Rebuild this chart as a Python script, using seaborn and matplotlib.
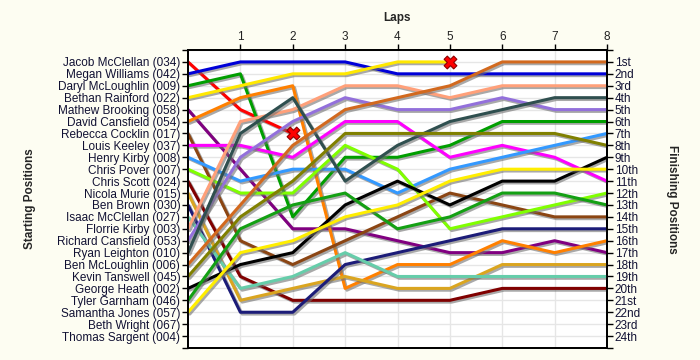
import numpy as np
import pandas as pd
import matplotlib
matplotlib.use('Agg')
import matplotlib.pyplot as plt
import matplotlib.patheffects as pe
import seaborn as sns

# lap chart data
laps = [0, 1, 2, 3, 4, 5, 6, 7, 8]

drivers = ['Jacob McClellan (034)', 'Megan Williams (042)', 'Daryl McLoughlin (009)',
           'Bethan Rainford (022)', 'Mathew Brooking (058)', 'David Cansfield (054)',
           'Rebecca Cocklin (017)', 'Louis Keeley (037)', 'Henry Kirby (008)',
           'Chris Pover (007)', 'Chris Scott (024)', 'Nicola Murie (015)',
           'Ben Brown (030)', 'Isaac McClellan (027)', 'Florrie Kirby (003)',
           'Richard Cansfield (053)', 'Ryan Leighton (010)', 'Ben McLoughlin (006)',
           'Kevin Tanswell (045)', 'George Heath (002)', 'Tyler Garnham (046)',
           'Samantha Jones (057)', 'Beth Wright (067)', 'Thomas Sargent (004)']

colors = ['#ff0000', '#0000d8', '#009e00', '#ffe800', '#800080', '#ff8000',
          '#8b4513', '#ff00ff', '#3399ff', '#80ff00', '#800000', '#daa520',
          '#1c1c78', '#66cdaa', '#ffa07a', '#9370db', '#2f4f4f', '#d2691e',
          '#808000', '#000000', '#13a013', '#ffee00', '#888888', '#888888']

# position of each driver at each lap (None = not running)
positions = [
    [1, 5, 7, None, None, None, None, None, None],
    [2, 1, 1, 1, 2, 2, 2, 2, 2],
    [3, 2, 14, 9, 9, 8, 6, 6, 6],
    [4, 3, 2, 2, 1, 1, None, None, None],
    [5, 10, 15, 15, 16, 17, 17, 16, 17],
    [6, 4, 3, 20, 18, 18, 16, 17, 16],
    [7, 16, 18, 16, 14, 12, 13, 14, 14],
    [8, 8, 9, 6, 6, 9, 8, 9, 11],
    [9, 11, 10, 10, 12, 10, 9, 8, 7],
    [10, 12, 12, 8, 10, 15, 14, 13, 12],
    [11, 19, 21, 21, 21, 21, 20, 20, 20],
    [12, 21, 20, 19, 20, 20, 18, 18, 18],
    [13, 22, 22, 18, 17, 16, 15, 15, 15],
    [14, 20, 19, 17, 19, 19, 19, 19, 19],
    [15, 6, 5, 3, 3, 4, 3, 3, 3],
    [16, 9, 6, 4, 5, 5, 4, 5, 5],
    [17, 7, 4, 11, 8, 6, 5, 4, 4],
    [18, 13, 8, 5, 4, 3, 1, 1, 1],
    [19, 14, 11, 7, 7, 7, 7, 7, 8],
    [20, 18, 17, 13, 11, 13, 11, 11, 9],
    [21, 15, 13, 12, 15, 14, 12, 12, 13],
    [22, 17, 16, 14, 13, 11, 10, 10, 10],
    [None] * 9,
    [None] * 9,
]

retired = ['Jacob McClellan (034)', 'Bethan Rainford (022)']

finish_labels = ['1st', '2nd', '3rd', '4th', '5th', '6th', '7th', '8th', '9th', '10th',
                 '11th', '12th', '13th', '14th', '15th', '16th', '17th', '18th', '19th',
                 '20th', '21st', '22nd', '23rd', '24th']

################################################################################

rows = []
for name, pos in zip(drivers, positions):
    for lap, p in zip(laps, pos):
        if p is not None:
            rows.append((name, lap, p))
df = pd.DataFrame(rows, columns=['driver', 'lap', 'pos'])

sns.set_style('white')
plt.rcParams['font.family'] = ['Liberation Sans', 'DejaVu Sans']

bg = '#fdfdf2'
fig = plt.figure(figsize=(7, 3.6), dpi=100, facecolor=bg)
ax = fig.add_axes([188 / 700, 12 / 360, 419 / 700, 298 / 360])
ax.set_facecolor('white')

running = [d for d in drivers if d in set(df['driver'])]
sns.lineplot(data=df, x='lap', y='pos', hue='driver', hue_order=running,
             palette=dict(zip(drivers, colors)), estimator=None, sort=True,
             legend=False, lw=2.2, ax=ax, zorder=3)
for ln in ax.lines:
    ln.set_path_effects([pe.SimpleLineShadow(offset=(1.3, -1.3), shadow_color='#707070', alpha=0.6),
                         pe.Normal()])

last = df[df['driver'].isin(retired)].groupby('driver').tail(1)
sns.scatterplot(data=last, x='lap', y='pos', marker='X', s=85, color='#ff0000',
                edgecolor='#8b0000', linewidth=0.8, legend=False, ax=ax, zorder=5)

ax.set_xlim(0, 8)
ax.set_ylim(25, 0)
ax.xaxis.tick_top()
ax.set_xticks(laps[1:])
ax.set_xticklabels([str(l) for l in laps[1:]], fontsize=8.5, color='#222222')
ax.set_yticks(range(0, 26))
ax.set_yticklabels([''] + drivers + [''], fontsize=8.5, color='#111133')
ax.tick_params(axis='x', length=4, width=1, pad=1, colors='black', labelcolor='#222222')
ax.tick_params(axis='y', length=4, width=1, pad=1.5, colors='black', labelcolor='#111133', left=True)
ax.set_xlabel('')
ax.set_ylabel('')
ax.grid(True, color='#e6e6e6', lw=1)
for s in ax.spines.values():
    s.set_color('black')
    s.set_linewidth(1.3)

ax2 = ax.twinx()
ax2.set_ylim(25, 0)
ax2.set_yticks(range(0, 26))
ax2.set_yticklabels([''] + finish_labels + [''], fontsize=8.5, color='#111133')
ax2.tick_params(axis='y', length=4, width=1, pad=1.5, colors='black', labelcolor='#111133', right=True)
ax2.grid(False)
for s in ax2.spines.values():
    s.set_color('black')
    s.set_linewidth(1.3)

fig.text(397.5 / 700, 1 - 18 / 360, 'Laps', ha='center', va='center', fontsize=8.5, fontweight='bold')
fig.text(30 / 700, 1 - 199 / 360, 'Starting Positions', ha='center', va='center', rotation=90,
         fontsize=8.5, fontweight='bold')
fig.text(672 / 700, 1 - 199 / 360, 'Finishing Positions', ha='center', va='center', rotation=270,
         fontsize=8.5, fontweight='bold')

fig.savefig('out.png', dpi=100, facecolor=bg)
